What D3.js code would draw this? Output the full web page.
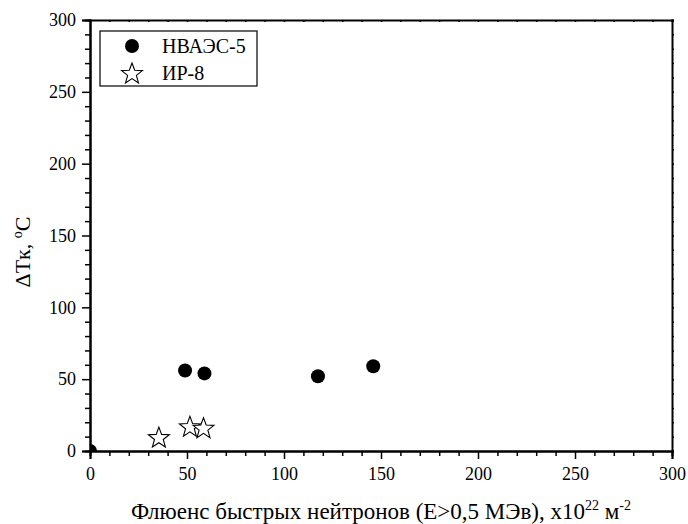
<!DOCTYPE html>
<html>
<head>
<meta charset="utf-8">
<script src="https://cdn.jsdelivr.net/npm/d3@7"></script>
<style>
  body { margin: 0; background: #fff; }
</style>
</head>
<body>
<script>
// data
const nvaesFluence = [0, 49, 59, 117.5, 146];
const nvaesShift = [0, 56, 54, 52, 59];
const ir8Fluence = [35.5, 51.5, 58.5];
const ir8Shift = [9, 16.5, 15.5];
const seriesNames = ['НВАЭС-5', 'ИР-8'];
const majorTicks = [0, 50, 100, 150, 200, 250, 300];

const serif = "'Liberation Serif', 'Times New Roman', serif";

const width = 688;
const height = 524;
const margin = { top: 20, right: 16, bottom: 73, left: 90 };

const x = d3.scaleLinear().domain([0, 300]).range([margin.left, width - margin.right]);
const y = d3.scaleLinear().domain([0, 300]).range([height - margin.bottom, margin.top]);

const svg = d3.select('body').append('svg')
  .attr('width', width)
  .attr('height', height)
  .style('font-family', serif);

const minorTicks = d3.range(0, 301, 10).filter(v => v % 50 !== 0);

// bottom axis
const gx = svg.append('g').attr('transform', `translate(0,${y(0)})`);
gx.call(d3.axisBottom(x).tickValues(majorTicks).tickSize(8).tickPadding(8));
gx.append('g').call(d3.axisBottom(x).tickValues(minorTicks).tickSize(5).tickFormat(''));

// left axis
const gy = svg.append('g').attr('transform', `translate(${x(0)},0)`);
gy.call(d3.axisLeft(y).tickValues(majorTicks).tickSize(8).tickPadding(6));
gy.append('g').call(d3.axisLeft(y).tickValues(minorTicks).tickSize(5).tickFormat(''));

// top and right axes without labels
svg.append('g').attr('transform', `translate(0,${y(300)})`)
  .call(d3.axisBottom(x).tickValues(d3.range(0, 301, 10)).tickSize(2).tickFormat(''));
svg.append('g').attr('transform', `translate(${x(300)},0)`)
  .call(d3.axisRight(y).tickValues(d3.range(0, 301, 10)).tickSize(2).tickFormat(''));

svg.selectAll('g').attr('font-family', null);
svg.selectAll('.domain').attr('stroke', '#000').attr('stroke-width', 2);
svg.selectAll('.tick line').attr('stroke', '#000').attr('stroke-width', 1.5);
svg.selectAll('.tick text')
  .style('font-family', serif)
  .attr('font-size', 18)
  .attr('fill', '#000');

// five-pointed star, point up
function starPath(ro, ri) {
  const pts = d3.range(10).map((i) => {
    const r = i % 2 === 0 ? ro : ri;
    const a = -Math.PI / 2 + i * Math.PI / 5;
    return [r * Math.cos(a), r * Math.sin(a)];
  });
  return `M${pts.join('L')}Z`;
}
const star = starPath(11, 4.6);

// plot clip so the point at origin gets cut like the original
svg.append('clipPath').attr('id', 'plot')
  .append('rect')
  .attr('x', x(0)).attr('y', y(300))
  .attr('width', x(300) - x(0)).attr('height', y(0) - y(300));

const pts = svg.append('g').attr('clip-path', 'url(#plot)');
pts.selectAll('circle')
  .data(nvaesFluence.map((f, i) => [f, nvaesShift[i]]))
  .enter()
  .append('circle')
  .attr('cx', d => x(d[0]))
  .attr('cy', d => y(d[1]))
  .attr('r', 7)
  .attr('fill', '#000');

pts.selectAll('path.star')
  .data(ir8Fluence.map((f, i) => [f, ir8Shift[i]]))
  .enter()
  .append('path')
  .attr('class', 'star')
  .attr('d', star)
  .attr('transform', d => `translate(${x(d[0])},${y(d[1])})`)
  .attr('fill', '#fff')
  .attr('stroke', '#000')
  .attr('stroke-width', 1.1);

// legend
const legend = svg.append('g');
legend.append('rect')
  .attr('x', 100).attr('y', 31)
  .attr('width', 157).attr('height', 55)
  .attr('fill', '#fff').attr('stroke', '#000').attr('stroke-width', 1.2);
legend.append('circle').attr('cx', 132).attr('cy', 46).attr('r', 7).attr('fill', '#000');
legend.append('path')
  .attr('d', star)
  .attr('transform', 'translate(132,74)')
  .attr('fill', '#fff').attr('stroke', '#000').attr('stroke-width', 1.1);
legend.selectAll('text.lab')
  .data(seriesNames)
  .enter()
  .append('text')
  .attr('class', 'lab')
  .attr('x', 162)
  .attr('y', (d, i) => 53 + i * 27)
  .style('font-family', serif)
  .attr('font-size', 20)
  .text(d => d);

// axis titles
const xt = svg.append('text')
  .attr('x', 381).attr('y', 519)
  .attr('text-anchor', 'middle')
  .style('font-family', serif)
  .attr('font-size', 23);
xt.append('tspan').text('Флюенс быстрых нейтронов (E>0,5 МЭв), x10');
xt.append('tspan').attr('dy', -9).attr('font-size', 14).text('22');
xt.append('tspan').attr('dy', 9).text(' м');
xt.append('tspan').attr('dy', -9).attr('font-size', 14).text('-2');

const yt = svg.append('text')
  .attr('transform', 'translate(30,252) rotate(-90)')
  .attr('text-anchor', 'middle')
  .style('font-family', serif)
  .attr('font-size', 22);
yt.append('tspan').text('ΔTк, ');
yt.append('tspan').attr('dy', -8).attr('font-size', 14).text('o');
yt.append('tspan').attr('dy', 8).text('C');
</script>
</body>
</html>
